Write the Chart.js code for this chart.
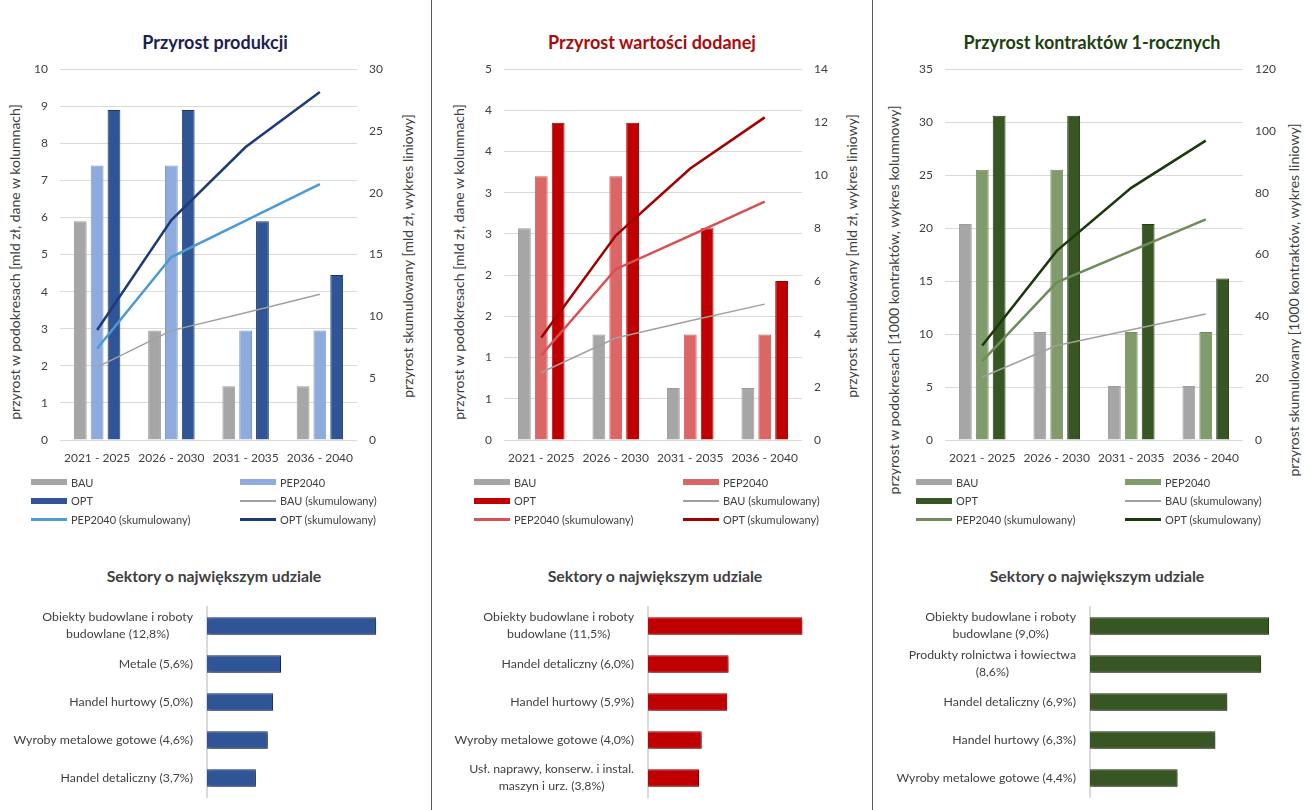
<!DOCTYPE html>
<html lang="pl">
<head>
<meta charset="utf-8">
<script src="https://cdn.jsdelivr.net/npm/chart.js@4.4.1/dist/chart.umd.min.js"></script>
<style>
  body { margin: 0; width: 1311px; height: 810px; background: #fff; position: relative; overflow: hidden; font-family: Lato, sans-serif; color: #404040; }
  canvas { position: absolute; }
  .divider { position: absolute; top: 0; width: 1px; height: 810px; background: #595959; }
  .title { position: absolute; transform: translate(-50%, -50%); font-weight: bold; font-size: 18px; white-space: nowrap; }
  .subtitle { position: absolute; transform: translate(-50%, -50%); font-weight: bold; font-size: 15.8px; white-space: nowrap; color: #404040; }
  .axis-title { position: absolute; transform: translate(-50%, -50%) rotate(-90deg); font-size: 14px; white-space: nowrap; color: #404040; }
  .legend { position: absolute; display: grid; grid-template-columns: 209px auto; font-size: 11px; color: #404040; }
  .legend-item { display: flex; align-items: center; height: 18.5px; white-space: nowrap; }
  .swatch { width: 36px; margin-right: 4px; }
</style>
</head>
<body>
<div class="divider" style="left:431px"></div>
<div class="divider" style="left:872px"></div>

<div class="title" style="left:215px;top:42px;color:#1b2150">Przyrost produkcji</div>
<div class="title" style="left:652px;top:42px;color:#a80c0c">Przyrost wartości dodanej</div>
<div class="title" style="left:1092px;top:42px;color:#203f10">Przyrost kontraktów 1-rocznych</div>

<div class="axis-title" style="left:14px;top:262px">przyrost w podokresach [mld zł, dane w kolumnach]</div>
<div class="axis-title" style="left:407px;top:256px">przyrost skumulowany [mld zł, wykres liniowy]</div>
<div class="axis-title" style="left:458px;top:262px">przyrost w podokresach [mld zł, dane w kolumnach]</div>
<div class="axis-title" style="left:851px;top:256px">przyrost skumulowany [mld zł, wykres liniowy]</div>
<div class="axis-title" style="left:893px;top:300px">przyrost w podokresach [1000 kontraktów, wykres kolumnowy]</div>
<div class="axis-title" style="left:1293px;top:300px">przyrost skumulowany [1000 kontraktów, wykres liniowy]</div>

<canvas id="prodChart" style="left:0px;top:50px" width="431" height="425"></canvas>
<canvas id="gvaChart" style="left:432px;top:50px" width="440" height="425"></canvas>
<canvas id="contrChart" style="left:873px;top:50px" width="438" height="425"></canvas>

<div class="legend" id="prodLegend" style="left:31px;top:473px"></div>
<div class="legend" id="gvaLegend" style="left:474px;top:473px"></div>
<div class="legend" id="contrLegend" style="left:916px;top:473px"></div>

<div class="subtitle" style="left:214px;top:575px">Sektory o największym udziale</div>
<div class="subtitle" style="left:655px;top:575px">Sektory o największym udziale</div>
<div class="subtitle" style="left:1097px;top:575px">Sektory o największym udziale</div>

<canvas id="prodSectorChart" style="left:0px;top:600px" width="431" height="205"></canvas>
<canvas id="gvaSectorChart" style="left:432px;top:600px" width="440" height="205"></canvas>
<canvas id="contrSectorChart" style="left:873px;top:600px" width="438" height="205"></canvas>

<script>
const periods = ['2021 - 2025', '2026 - 2030', '2031 - 2035', '2036 - 2040'];

// Przyrost produkcji [mld zł]
const prodBau = [5.9, 2.95, 1.45, 1.45];
const prodPep = [7.4, 7.4, 2.95, 2.95];
const prodOpt = [8.9, 8.9, 5.9, 4.45];
const prodBauCum = [5.9, 8.85, 10.3, 11.8];
const prodPepCum = [7.4, 14.8, 17.75, 20.7];
const prodOptCum = [8.9, 17.8, 23.7, 28.15];

// Przyrost wartości dodanej [mld zł]
const gvaBau = [2.57, 1.28, 0.63, 0.63];
const gvaPep = [3.2, 3.2, 1.28, 1.28];
const gvaOpt = [3.85, 3.85, 2.57, 1.93];
const gvaBauCum = [2.55, 3.85, 4.5, 5.13];
const gvaPepCum = [3.2, 6.45, 7.72, 9.0];
const gvaOptCum = [3.87, 7.72, 10.25, 12.18];

// Przyrost kontraktów 1-rocznych [1000 kontraktów]
const contrBau = [20.4, 10.2, 5.1, 5.1];
const contrPep = [25.5, 25.5, 10.2, 10.2];
const contrOpt = [30.6, 30.6, 20.4, 15.25];
const contrBauCum = [20.4, 30.6, 35.7, 40.8];
const contrPepCum = [25.5, 51, 61.2, 71.4];
const contrOptCum = [30.6, 61.2, 81.6, 96.9];

// Sektory o największym udziale [%]
const prodSectors = [['Obiekty budowlane i roboty', 'budowlane (12,8%)'], 'Metale (5,6%)', 'Handel hurtowy (5,0%)', 'Wyroby metalowe gotowe (4,6%)', 'Handel detaliczny (3,7%)'];
const prodShares = [12.8, 5.6, 5.0, 4.6, 3.7];
const gvaSectors = [['Obiekty budowlane i roboty', 'budowlane (11,5%)'], 'Handel detaliczny (6,0%)', 'Handel hurtowy (5,9%)', 'Wyroby metalowe gotowe (4,0%)', ['Usł. naprawy, konserw. i instal.', 'maszyn i urz. (3,8%)']];
const gvaShares = [11.5, 6.0, 5.9, 4.0, 3.8];
const contrSectors = [['Obiekty budowlane i roboty', 'budowlane (9,0%)'], ['Produkty rolnictwa i łowiectwa', '(8,6%)'], 'Handel detaliczny (6,9%)', 'Handel hurtowy (6,3%)', 'Wyroby metalowe gotowe (4,4%)'];
const contrShares = [9.0, 8.6, 6.9, 6.3, 4.4];

Chart.defaults.font.family = 'Lato';
Chart.defaults.font.size = 12;
Chart.defaults.color = '#404040';
Chart.defaults.animation = false;

const GRID = '#d9d9d9';
const GRAY = '#a6a6a6';

function barSet(label, data, color, border) {
  return { type: 'bar', label, data, backgroundColor: color, borderColor: border, borderWidth: 1,
    yAxisID: 'y', order: 2, categoryPercentage: 0.68, barPercentage: 0.76 };
}
function lineSet(label, data, color, width) {
  return { type: 'line', label, data, borderColor: color, backgroundColor: color, borderWidth: width,
    pointRadius: 0, tension: 0, yAxisID: 'y1', order: 1 };
}

function drawTop(id, datasets, left, right, yMax, yStep, y1Max, y1Step, roundTicks) {
  return new Chart(document.getElementById(id), {
    data: { labels: periods, datasets },
    options: {
      responsive: false,
      layout: { padding: { top: 8 } },
      plugins: { legend: { display: false }, tooltip: { enabled: false } },
      scales: {
        x: {
          grid: { display: false, drawTicks: false },
          border: { display: false },
          ticks: { padding: 11 },
          afterFit: s => { s.height = 35; }
        },
        y: {
          position: 'left', min: 0, max: yMax,
          ticks: { stepSize: yStep, padding: 12, callback: v => roundTicks ? Math.round(v) : v },
          grid: { color: GRID, drawTicks: false },
          border: { display: false },
          afterFit: s => { s.width = left; }
        },
        y1: {
          position: 'right', min: 0, max: y1Max,
          ticks: { stepSize: y1Step, padding: 12 },
          grid: { drawOnChartArea: false, drawTicks: false },
          border: { display: false },
          afterFit: s => { s.width = right; }
        }
      }
    }
  });
}

function drawLegend(id, chart) {
  const box = document.getElementById(id);
  chart.data.datasets.forEach(ds => {
    const item = document.createElement('div');
    item.className = 'legend-item';
    const sw = document.createElement('div');
    sw.className = 'swatch';
    sw.style.height = ds.type === 'bar' ? '6px' : Math.max(2, ds.borderWidth) + 'px';
    sw.style.background = ds.type === 'bar' ? ds.backgroundColor : ds.borderColor;
    item.appendChild(sw);
    item.appendChild(document.createTextNode(ds.label));
    box.appendChild(item);
  });
}

const prodChart = drawTop('prodChart', [
  barSet('BAU', prodBau, GRAY, '#9c9c9c'),
  barSet('PEP2040', prodPep, '#8faadc', '#7d9bd3'),
  barSet('OPT', prodOpt, '#2f5597', '#1f3864'),
  lineSet('BAU (skumulowany)', prodBauCum, '#a0a0a0', 1.5),
  lineSet('PEP2040 (skumulowany)', prodPepCum, '#4b9ad6', 2.5),
  lineSet('OPT (skumulowany)', prodOptCum, '#1e3a7a', 2.5)
], 60, 74, 10, 1, 30, 5, false);

const gvaChart = drawTop('gvaChart', [
  barSet('BAU', gvaBau, GRAY, '#9c9c9c'),
  barSet('PEP2040', gvaPep, '#dc6666', '#d05858'),
  barSet('OPT', gvaOpt, '#c00000', '#a00000'),
  lineSet('BAU (skumulowany)', gvaBauCum, '#a0a0a0', 1.5),
  lineSet('PEP2040 (skumulowany)', gvaPepCum, '#da5050', 2.5),
  lineSet('OPT (skumulowany)', gvaOptCum, '#a30000', 2.5)
], 72, 70, 4.5, 0.5, 14, 2, true);

const contrChart = drawTop('contrChart', [
  barSet('BAU', contrBau, GRAY, '#9c9c9c'),
  barSet('PEP2040', contrPep, '#819b6c', '#718c5c'),
  barSet('OPT', contrOpt, '#375623', '#243b14'),
  lineSet('BAU (skumulowany)', contrBauCum, '#a0a0a0', 1.5),
  lineSet('PEP2040 (skumulowany)', contrPepCum, '#6f8c5a', 2.5),
  lineSet('OPT (skumulowany)', contrOptCum, '#1b380c', 2.5)
], 72, 68, 35, 5, 120, 20, false);

drawLegend('prodLegend', prodChart);
drawLegend('gvaLegend', gvaChart);
drawLegend('contrLegend', contrChart);

// category labels: block right-aligned, lines centred within the block
const sectorLabels = {
  id: 'sectorLabels',
  afterDraw(chart) {
    const { ctx, chartArea } = chart;
    const scale = chart.scales.y;
    ctx.save();
    ctx.font = '12.3px Lato';
    ctx.fillStyle = '#404040';
    ctx.textAlign = 'center';
    ctx.textBaseline = 'middle';
    chart.data.labels.forEach((label, i) => {
      const lines = Array.isArray(label) ? label : [label];
      const w = Math.max(...lines.map(l => ctx.measureText(l).width));
      const cx = chartArea.left - 14 - w / 2;
      const cy = scale.getPixelForValue(i);
      lines.forEach((line, j) => {
        ctx.fillText(line, cx, cy + (j - (lines.length - 1) / 2) * 17);
      });
    });
    ctx.restore();
  }
};

const barShadow = {
  id: 'barShadow',
  beforeDatasetsDraw(chart) {
    const ctx = chart.ctx;
    ctx.save();
    ctx.shadowColor = 'rgba(0,0,0,0.4)';
    ctx.shadowBlur = 4;
    ctx.shadowOffsetX = 2;
    ctx.shadowOffsetY = 2;
  },
  afterDatasetsDraw(chart) {
    chart.ctx.restore();
  }
};

function drawSectors(id, labels, values, color, border, axisLeft, padRight, xMax) {
  return new Chart(document.getElementById(id), {
    type: 'bar',
    data: {
      labels,
      datasets: [{ data: values, backgroundColor: color, borderColor: border, borderWidth: 1,
        categoryPercentage: 1, barPercentage: 0.46 }]
    },
    options: {
      responsive: false,
      indexAxis: 'y',
      layout: { padding: { top: 7, bottom: 8, right: padRight } },
      plugins: { legend: { display: false }, tooltip: { enabled: false } },
      scales: {
        x: { display: false, min: 0, max: xMax },
        y: {
          ticks: { display: false },
          grid: { display: false, drawTicks: false },
          border: { display: true, color: GRID, width: 2 },
          afterFit: s => { s.width = axisLeft; }
        }
      }
    },
    plugins: [barShadow, sectorLabels]
  });
}

drawSectors('prodSectorChart', prodSectors, prodShares, '#2f5597', '#1f3864', 207, 39, 14);
drawSectors('gvaSectorChart', gvaSectors, gvaShares, '#c00000', '#a00000', 216, 36, 14);
drawSectors('contrSectorChart', contrSectors, contrShares, '#375623', '#243b14', 217, 22, 10);
</script>
</body>
</html>
